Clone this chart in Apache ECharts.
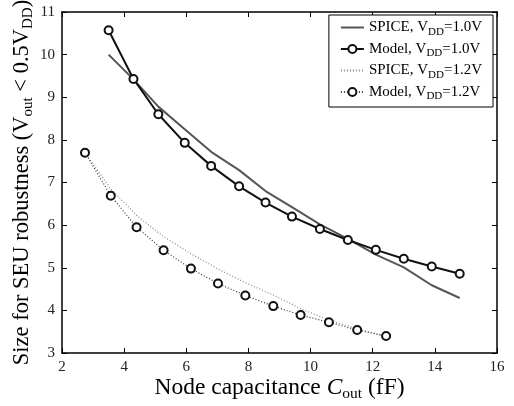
<!DOCTYPE html>
<html>
<head>
<meta charset="utf-8">
<script src="https://cdn.jsdelivr.net/npm/echarts@6/dist/echarts.min.js"></script>
<style>
  html, body { margin: 0; padding: 0; background: #fff; }
  #chart { width: 514px; height: 406px; }
</style>
</head>
<body>
<div id="chart"></div>
<script>
// node capacitance (fF)
const capV10 = [3.5, 4.3, 5.1, 5.95, 6.8, 7.7, 8.55, 9.4, 10.3, 11.2, 12.1, 13.0, 13.9, 14.8]
const spiceV10 = [10.0, 9.42, 8.78, 8.25, 7.72, 7.29, 6.8, 6.42, 6.02, 5.68, 5.31, 5.01, 4.59, 4.29]
const modelV10 = [10.57, 9.43, 8.6, 7.93, 7.39, 6.91, 6.53, 6.2, 5.91, 5.65, 5.42, 5.21, 5.03, 4.86]

const capV12 = [2.74, 3.57, 4.4, 5.27, 6.15, 7.02, 7.9, 8.8, 9.68, 10.59, 11.5, 12.43]
const spiceV12 = [7.7, 6.85, 6.23, 5.73, 5.33, 4.97, 4.65, 4.36, 4.04, 3.77, 3.57, 3.38]
const modelV12 = [7.7, 6.69, 5.95, 5.41, 4.98, 4.63, 4.35, 4.1, 3.89, 3.72, 3.54, 3.4]

const seriesNames = ['SPICE, V_DD=1.0V', 'Model, V_DD=1.0V', 'SPICE, V_DD=1.2V', 'Model, V_DD=1.2V']

const xTicks = {min: 2, max: 16, interval: 2}
const yTicks = {min: 3, max: 11, interval: 1}

const font = 'Liberation Serif'

function zip(xs, ys) {
  return xs.map((x, i) => [x, ys[i]])
}

function legendText(name) {
  // "SPICE, V_DD=1.0V" -> rich text with subscript
  const parts = name.split('_DD')
  return parts[0] + '{sub|DD}' + parts[1]
}

const chart = echarts.init(document.getElementById('chart'), null, {renderer: 'canvas'})

const axisCommon = {
  axisLine: {show: true, lineStyle: {color: '#000', width: 1.5}},
  axisTick: {show: true, inside: true, length: 5, lineStyle: {color: '#000', width: 1}},
  splitLine: {show: false}
}

const xNameRich = {
  it: {fontFamily: font, fontSize: 23.5, fontStyle: 'italic', color: '#000'},
  sub: {fontFamily: font, fontSize: 15.5, color: '#000', padding: [13, 0, 0, 0]}
}
const yNameRich = {
  sub: {fontFamily: font, fontSize: 15, color: '#000', padding: [13, 0, 0, 0]}
}

// spice entries: plain line in the legend, no dot
const legendData = seriesNames.map((n, i) => (
  i % 2 === 0 ? {name: n, itemStyle: {color: 'transparent', borderWidth: 0}} : {name: n}
))

const option = {
  animation: false,
  backgroundColor: '#fff',
  textStyle: {fontFamily: font},
  grid: {left: 62, right: 17, top: 12, bottom: 53, outerBoundsMode: 'none'},
  legend: {
    orient: 'vertical',
    right: 21,
    top: 15,
    padding: [5, 11, 5, 11],
    itemGap: 4,
    itemWidth: 23,
    itemHeight: 10,
    backgroundColor: '#fff',
    borderColor: '#000',
    borderWidth: 1,
    borderRadius: 0,
    data: legendData,
    formatter: legendText,
    textStyle: {
      fontFamily: font,
      fontSize: 15,
      color: '#000',
      rich: {
        sub: {fontFamily: font, fontSize: 11, color: '#000', padding: [9, 0, 0, 0]}
      }
    }
  },
  xAxis: [
    Object.assign({
      type: 'value',
      position: 'bottom',
      name: 'Node capacitance {it|C}{sub|out} (fF)',
      nameLocation: 'middle',
      nameMoveOverlap: false,
      nameGap: 20,
      nameTextStyle: {fontFamily: font, fontSize: 23.5, color: '#000', rich: xNameRich},
      axisLabel: {fontFamily: font, fontSize: 15, color: '#222', margin: 7}
    }, xTicks, axisCommon),
    Object.assign({
      type: 'value',
      position: 'top',
      axisLabel: {show: false}
    }, xTicks, axisCommon)
  ],
  yAxis: [
    Object.assign({
      type: 'value',
      position: 'left',
      name: 'Size for SEU robustness (V{sub|out} < 0.5V{sub|DD})',
      nameLocation: 'middle',
      nameRotate: 90,
      nameMoveOverlap: false,
      nameGap: 26,
      nameTextStyle: {fontFamily: font, fontSize: 22.5, color: '#000', rich: yNameRich},
      axisLabel: {fontFamily: font, fontSize: 15, color: '#222', margin: 7}
    }, yTicks, axisCommon),
    Object.assign({
      type: 'value',
      position: 'right',
      axisLabel: {show: false}
    }, yTicks, axisCommon)
  ],
  series: [
    {
      name: seriesNames[0],
      type: 'line',
      data: zip(capV10, spiceV10),
      symbol: 'none',
      lineStyle: {color: '#555', width: 2},
      itemStyle: {color: '#555'},
      z: 2
    },
    {
      name: seriesNames[1],
      type: 'line',
      data: zip(capV10, modelV10),
      symbol: 'emptyCircle',
      symbolSize: 8,
      lineStyle: {color: '#111', width: 2},
      itemStyle: {color: '#111', borderWidth: 2},
      z: 3
    },
    {
      name: seriesNames[2],
      type: 'line',
      data: zip(capV12, spiceV12),
      symbol: 'none',
      lineStyle: {color: '#888', width: 1.2, type: [1, 2]},
      itemStyle: {color: '#888'},
      z: 2
    },
    {
      name: seriesNames[3],
      type: 'line',
      data: zip(capV12, modelV12),
      symbol: 'emptyCircle',
      symbolSize: 8,
      lineStyle: {color: '#333', width: 1.2, type: [1, 2]},
      itemStyle: {color: '#111', borderWidth: 2},
      z: 3
    }
  ]
}

chart.setOption(option)
</script>
</body>
</html>
